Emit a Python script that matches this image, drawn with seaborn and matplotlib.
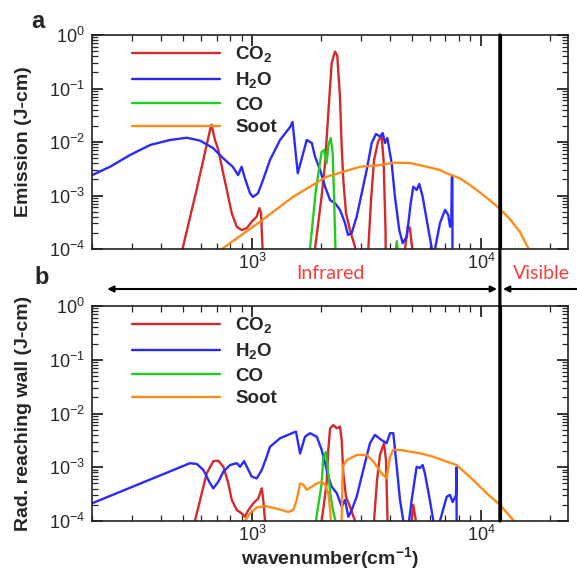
import numpy as np
import pandas as pd
import matplotlib
matplotlib.use("Agg")
import matplotlib.pyplot as plt
from matplotlib.patches import ConnectionPatch
import seaborn as sns

sns.set_style("ticks")
plt.rcParams['font.family'] = ['Liberation Sans', 'DejaVu Sans']
plt.rcParams['mathtext.fontset'] = 'custom'
plt.rcParams['mathtext.rm'] = 'Liberation Sans'
plt.rcParams['mathtext.bf'] = 'Liberation Sans:bold'

# ---- panel a: emission (1e-6 = below the axis)
a_co2_wn = [470, 497, 573, 660, 667, 675, 689, 713, 738, 776, 816, 858, 901, 948, 997, 1048, 1076, 1095, 1113, 1130,
            1860, 1884, 2013, 2085, 2154, 2228, 2303, 2356, 2422, 2464, 2505, 2573, 2678, 2817, 2860,
            3190, 3221, 3310, 3413, 3550, 3680, 3755, 3830, 3870,
            4630, 4660, 4797, 4895, 5024, 5060]
a_co2 = [1e-6, 1e-4, 1.3e-3, 1.9e-2, 2.1e-2, 1.6e-2, 1.09e-2, 7.1e-3, 3.45e-3, 1.27e-3, 4.65e-4, 2.6e-4, 2.26e-4, 2.44e-4, 3.24e-4, 4.0e-4, 5.8e-4, 4.7e-4, 9e-5, 1e-6,
         1e-6, 1e-4, 9.5e-4, 4.0e-3, 3.5e-2, 0.296, 0.49, 0.42, 7.0e-2, 8.2e-3, 1.95e-3, 4.7e-4, 2.26e-4, 1.1e-4, 1e-6,
         1e-6, 1e-4, 8.2e-4, 4.6e-3, 1.0e-2, 1.34e-2, 4.6e-3, 2.26e-4, 1e-6,
         1e-6, 1e-4, 2.7e-4, 2.47e-4, 9e-5, 1e-6]

a_h2o_wn = [200, 240, 293, 359, 438, 519, 593, 676, 747, 826, 869, 901, 931, 980, 1010, 1062, 1117, 1198, 1325, 1466,
            1503, 1584, 1734, 1824, 1885, 1983, 2085, 2193, 2303, 2422, 2547, 2625, 2725, 2865, 3013, 3169, 3333,
            3479, 3622, 3722, 3810, 3899, 4074, 4210, 4397, 4550, 4742, 4934, 5063, 5237, 5378, 5563, 5794, 6097,
            6200, 6300, 6622, 6970, 7198, 7330, 7420, 7460, 7500, 7520]
a_h2o = [2.4e-3, 3.45e-3, 5.7e-3, 8.8e-3, 1.09e-2, 1.2e-2, 1.06e-2, 7.7e-3, 5.0e-3, 3.4e-3, 2.4e-3, 3.45e-3, 2.1e-3, 1.1e-3, 9.4e-4, 1.1e-3, 1.95e-3, 4.6e-3, 1.09e-2, 1.9e-2,
         2.37e-2, 2.6e-3, 1.09e-2, 9.6e-3, 5.3e-3, 3.0e-3, 1.46e-3, 8.2e-4, 7.2e-4, 5.4e-4, 3.06e-4, 1.83e-4, 1.99e-4, 4.0e-4, 1.1e-3, 3.0e-3, 9.6e-3,
         1.41e-2, 1.26e-2, 1.47e-2, 9.6e-3, 1.19e-2, 4.0e-3, 9.5e-4, 2.26e-4, 1.29e-4, 1.7e-4, 7.2e-4, 1.46e-3, 1.27e-3, 1.64e-3, 9.5e-4, 3.5e-4, 1.04e-4,
         2e-5, 1.0e-4, 3.06e-4, 5.4e-4, 4.3e-4, 2.6e-4, 3e-4, 2.3e-3, 2.3e-3, 1e-6]

a_co_wn = [1760, 1791, 1901, 2013, 2061, 2117, 2157, 2206, 2251, 2282, 2316, 2340, 4200, 4230, 4290, 4340, 4370]
a_co = [1e-6, 1e-4, 1.27e-3, 6.5e-3, 7.1e-3, 4.0e-3, 8.8e-3, 1.19e-2, 6.2e-3, 9.4e-4, 9e-5, 1e-6, 1e-6, 8e-5, 1.4e-4, 8e-5, 1e-6]

a_soot_wn = [700, 738, 887, 1084, 1514, 2117, 2965, 3622, 4140, 4895, 5794, 6622, 7086, 8090, 8950, 9900, 10950,
             12110, 13390, 14800, 16100, 17000]
a_soot = [7e-5, 1e-4, 1.75e-4, 3.24e-4, 9.5e-4, 2.24e-3, 3.45e-3, 3.7e-3, 4.1e-3, 4.05e-3, 3.45e-3, 3.0e-3, 2.6e-3, 2.1e-3, 1.57e-3, 1.14e-3, 8.1e-4,
          5.6e-4, 3.6e-4, 2.08e-4, 1.03e-4, 5e-5]

# ---- panel b: radiation reaching the wall
b_co2_wn = [540, 563, 634, 678, 713, 750, 788, 816, 858, 901, 931, 964, 1013, 1065, 1103, 1120, 1140, 1160,
            1990, 2015, 2117, 2154, 2193, 2266, 2345, 2422, 2464, 2505, 2573, 2678, 2817, 2850,
            3380, 3412, 3516, 3622, 3770, 3848, 3908, 3930, 4950, 4975, 5062, 5200, 5230]
b_co2 = [1e-6, 1e-4, 7.7e-4, 1.3e-3, 1.32e-3, 1.02e-3, 5.0e-4, 2.46e-4, 1.6e-4, 1.39e-4, 1.2e-4, 1.6e-4, 2.13e-4, 2.64e-4, 4.06e-4, 2.46e-4, 1e-4, 1e-6,
         1e-6, 1e-4, 5.0e-4, 2.1e-3, 5.3e-3, 6.1e-3, 5.3e-3, 5.7e-3, 3.2e-3, 7.7e-4, 2.83e-4, 1.85e-4, 1e-4, 1e-6,
         1e-6, 1e-4, 5.8e-4, 1.69e-3, 2.8e-3, 1.36e-3, 1e-4, 1e-6, 1e-6, 1e-4, 2e-4, 1e-4, 1e-6]

b_h2o_wn = [200, 536, 574, 613, 656, 678, 713, 750, 802, 858, 887, 923, 964, 997, 1048, 1103, 1159, 1198, 1325, 1514,
            1556, 1622, 1704, 1791, 1918, 2015, 2085, 2154, 2228, 2345, 2464, 2547, 2635, 2725, 2865, 3061, 3275,
            3443, 3684, 3873, 4006, 4141, 4287, 4430, 4581, 4650, 4790, 4851, 4981, 5237, 5417, 5563, 5690, 5980,
            6197, 6300, 6550, 6622, 7086, 7326, 7520, 7780, 7820, 7850]
b_h2o = [2.13e-4, 1.19e-3, 1.15e-3, 8.9e-4, 5.0e-4, 4.06e-4, 5.4e-4, 8.3e-4, 1.1e-3, 1.19e-3, 1.02e-3, 1.3e-3, 8.9e-4, 6.7e-4, 6.2e-4, 8.9e-4, 1.57e-3, 2.4e-3, 3.46e-3, 4.4e-3,
         4.6e-3, 1.8e-3, 3.7e-3, 4.3e-3, 3.7e-3, 2.1e-3, 1.19e-3, 6.7e-4, 4.35e-4, 3.3e-4, 1.85e-4, 2.46e-4, 1.2e-4, 1.6e-4, 2.83e-4, 8.9e-4, 2.8e-3,
         4.0e-3, 3.2e-3, 2.8e-3, 4.3e-3, 4.3e-3, 1.02e-3, 2.46e-4, 1e-4, 2e-5, 2e-5, 1e-4, 2.46e-4, 1.02e-3, 9.7e-4, 1.1e-3, 7.7e-4, 2.46e-4,
         1e-4, 2e-5, 2e-5, 1e-4, 2.83e-4, 3.05e-4, 2.25e-4, 3.0e-4, 1.0e-3, 1e-6]

b_co_wn = [1880, 1901, 2015, 2047, 2103, 2154, 2206, 2266, 2316, 2340]
b_co = [1e-6, 1e-4, 5.0e-4, 1.49e-3, 1.92e-3, 7.7e-4, 2.8e-4, 1.47e-4, 1e-4, 1e-6]

b_soot_wn = [900, 931, 980, 1048, 1140, 1299, 1442, 1514, 1567, 1622, 1676, 1734, 1824, 1918, 2015, 2085, 2154, 2193, 2214, 2240,
             2440, 2464, 2490, 2594, 2865, 3169, 3390, 3684, 3873, 4006, 4141, 4430, 4895, 5417, 6197, 7086, 7830,
             9250, 10580, 12110, 13840, 14500]
b_soot = [6e-5, 1e-4, 1.39e-4, 1.78e-4, 1.9e-4, 1.67e-4, 1.47e-4, 1.6e-4, 2.46e-4, 5.0e-4, 4.7e-4, 3.8e-4, 4.35e-4, 5.0e-4, 5.4e-4, 4.7e-4, 3.3e-4, 1.6e-4, 1e-4, 1e-6,
          1e-6, 1e-4, 1.02e-3, 1.36e-3, 1.69e-3, 1.69e-3, 1.27e-3, 7.7e-4, 6.2e-4, 1.57e-3, 2.1e-3, 2.1e-3, 1.95e-3, 1.82e-3, 1.57e-3, 1.27e-3, 1.1e-3,
          5.8e-4, 3.3e-4, 2.0e-4, 1.04e-4, 5e-5]

species = [r"CO$_\mathbf{2}$", r"H$_\mathbf{2}$O", "CO", "Soot"]
colors = ["#d42a2a", "#2a2aff", "#22cc22", "#ff8c1a"]
ir_vis_edge = 12100
xlim = (200, 24000)
ylim = (1e-4, 1)

fig = plt.figure(figsize=(5.77, 5.71), dpi=100)
ax1 = fig.add_axes([92/577, 1-249/571, 476/577, 214/571])
ax2 = fig.add_axes([92/577, 1-521/571, 476/577, 215/571])

panels = [
    (ax1, [(a_co2_wn, a_co2), (a_h2o_wn, a_h2o), (a_co_wn, a_co), (a_soot_wn, a_soot)], "Emission (J-cm)"),
    (ax2, [(b_co2_wn, b_co2), (b_h2o_wn, b_h2o), (b_co_wn, b_co), (b_soot_wn, b_soot)], "Rad. reaching wall (J-cm)"),
]

for ax, series, ylab in panels:
    ax.set_xscale('log')
    ax.set_yscale('log')
    for (wn, val), name, c in zip(series, species, colors):
        df = pd.DataFrame({'wn': wn, 'val': val})
        sns.lineplot(data=df, x='wn', y='val', ax=ax, color=c, lw=1.7, label=name,
                     estimator=None, sort=False)
    ax.axvline(ir_vis_edge, color='black', lw=2.3)
    ax.set_xlim(*xlim)
    ax.set_ylim(*ylim)
    ax.set_ylabel(ylab, fontsize=14, fontweight='bold')
    ax.yaxis.set_label_coords(-0.125, 0.5)
    ax.set_xlabel("")
    ax.tick_params(which='both', direction='in', top=True, right=True, labelsize=13, pad=5)
    ax.tick_params(axis='x', pad=3)
    ax.tick_params(which='major', length=8, width=1.3)
    ax.tick_params(which='minor', length=4, width=0.9)
    for s in ax.spines.values():
        s.set_linewidth(1.2)
        s.set_color('#222222')
    ax.legend(loc='upper left', bbox_to_anchor=(0.084, 0.955), frameon=False,
              handlelength=4.7, handletextpad=0.8, labelspacing=0.3, borderpad=0,
              borderaxespad=0, prop=dict(weight='bold', size=13.5))

ax2.set_xlabel(r"wavenumber(cm$^{\mathbf{-1}}$)", fontsize=14, fontweight='bold', labelpad=0)

# black boundary line through the gap between panels
con = ConnectionPatch(xyA=(ir_vis_edge, 1), coordsA='data', axesA=ax1,
                      xyB=(ir_vis_edge, 1e-4), coordsB='data', axesB=ax2,
                      color='black', lw=2.3)
fig.add_artist(con)

# infrared / visible arrows
ay = 1.079
ax2.annotate('', xy=(233, ay), xytext=(11750, ay), xycoords=('data', 'axes fraction'),
             textcoords=('data', 'axes fraction'), annotation_clip=False,
             arrowprops=dict(arrowstyle='<|-|>', color='black', lw=1.5, mutation_scale=9,
                             shrinkA=0, shrinkB=0))
ax2.annotate('', xy=(12480, ay), xytext=(32000, ay), xycoords=('data', 'axes fraction'),
             textcoords=('data', 'axes fraction'), annotation_clip=False,
             arrowprops=dict(arrowstyle='-|>', color='black', lw=1.5, mutation_scale=9,
                             shrinkA=0, shrinkB=0))
ax2.text(2193, 1.153, "Infrared", transform=ax2.get_xaxis_transform(), ha='center', va='center',
         color='#ff3b3b', fontsize=14, family=['Lato', 'DejaVu Sans'])
ax2.text(13800, 1.153, "Visible", transform=ax2.get_xaxis_transform(), ha='left', va='center',
         color='#ff3b3b', fontsize=14, family=['Lato', 'DejaVu Sans'])

fig.text(38/577, 1-22/571, "a", fontsize=17, fontweight='bold', ha='center', va='center')
fig.text(42/577, 1-277/571, "b", fontsize=17, fontweight='bold', ha='center', va='center')

fig.savefig("out.png", dpi=100)
